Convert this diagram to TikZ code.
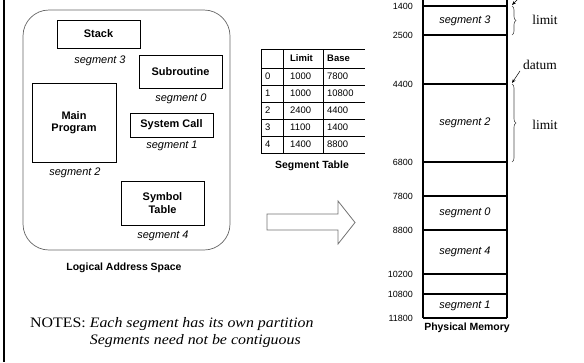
\documentclass[tikz,border=0pt]{standalone}
\usepackage{fontspec}
\setmainfont{Liberation Serif}
\setsansfont{Liberation Sans}
\newfontfamily\notesfont[FakeStretch=1.1]{Liberation Serif}
\usetikzlibrary{decorations.pathreplacing,arrows.meta}
\begin{document}
\begin{tikzpicture}[x=1bp,y=-1bp,
  seg/.style={draw=black,line width=0.9bp,minimum width=83bp,inner sep=0pt,
    font=\sffamily\bfseries\fontsize{11}{12.5}\selectfont,align=center},
  seglbl/.style={font=\sffamily\itshape\fontsize{11}{12}\selectfont,inner sep=0pt},
  caption/.style={font=\sffamily\bfseries\fontsize{10.5}{12}\selectfont,inner sep=0pt},
  addr/.style={font=\sffamily\fontsize{9}{10}\selectfont,inner sep=0pt,anchor=east},
  cell/.style={font=\sffamily\fontsize{9.5}{10}\selectfont,inner sep=0pt,anchor=west},
  hcell/.style={font=\sffamily\bfseries\fontsize{9.5}{10}\selectfont,inner sep=0pt,anchor=west},
  memline/.style={line width=1.1bp},
  bracestyle/.style={decorate,decoration={brace,amplitude=4bp},draw=black!70,line width=0.6bp},
  serifnote/.style={font=\rmfamily\fontsize{13.5}{15}\selectfont,inner sep=0pt},
  ptr/.style={-{Stealth[length=4bp,width=3bp]},line width=0.5bp}
]
\useasboundingbox (0,0) rectangle (584,362);
% left border
\draw[line width=2bp] (4,0) -- (4,362);

% logical address space
\draw[black!60,line width=0.7bp,rounded corners=26bp] (23,10) rectangle (230,250);
\node[seg,minimum height=28bp] (stack) at (98.5,34) {Stack};
\node[seglbl] (l3) at (100,61) {segment 3};
\node[seg,minimum height=33bp] (sub) at (180.5,71.5) {Subroutine};
\node[seglbl] (l0) at (181,99) {segment 0};
\node[seg,minimum width=84bp,minimum height=79bp] (main) at (74,122.5) {Main\\Program};
\node[seglbl] (l2) at (75,173) {segment 2};
\node[seg,minimum height=24bp] (sys) at (171.5,125) {System Call};
\node[seglbl] (l1) at (172,146) {segment 1};
\node[seg,minimum height=44bp] (sym) at (162.5,203) {Symbol\\Table};
\node[seglbl] (l4) at (163,236) {segment 4};
\node[caption] (las) at (124,268) {Logical Address Space};

% segment table
\foreach \yy in {49,68,85,102,119,136,153}{
  \draw[line width=0.7bp] (261,\yy) -- (365,\yy);
}
\draw[line width=1.2bp] (261.5,49) -- (261.5,153);
\draw[line width=0.7bp] (283,49) -- (283,153) (323,49) -- (323,153);
\node[hcell] (hl) at (290,58.5) {Limit};
\node[hcell] (hb) at (327,58.5) {Base};
\foreach \i/\lim/\base/\yy in {0/1000/7800/76.5,1/1000/10800/93.5,2/2400/4400/110.5,3/1100/1400/127.5,4/1400/8800/144.5}{
  \node[cell] (r\i) at (265,\yy) {\i};
  \node[cell] (rl\i) at (290,\yy) {\lim};
  \node[cell] (rb\i) at (327,\yy) {\base};
}
\node[caption] (st) at (312,166) {Segment Table};

% big arrow
\draw[black!55,line width=0.8bp,fill=white] (267,214) -- (338,214) -- (338,201) -- (355,222.5)
  -- (338,244) -- (338,230) -- (267,230) -- cycle;

% physical memory
\draw[memline] (423,0) -- (423,318) (507,0) -- (507,318);
\foreach \v/\yy in {1400/6,2500/35,4400/84,6800/162,7800/196,8800/230,10200/274,10800/294,11800/318}{
  \draw[memline] (423,\yy) -- (507,\yy);
  \coordinate (m\v) at (507,\yy);
  \node[addr] (a\v) at (413,\yy) {\v};
}
\node[seglbl] (p3) at (465,20.5) {segment 3};
\node[seglbl] (p2) at (465,123) {segment 2};
\node[seglbl] (p0) at (465,213) {segment 0};
\node[seglbl] (p4) at (465,252) {segment 4};
\node[seglbl] (p1) at (465,306) {segment 1};
\node[caption] (pm) at (467,328) {Physical Memory};

% braces and labels
\draw[bracestyle] ([xshift=5bp]m1400) -- ([xshift=5bp]m2500);
\node[serifnote] (lim1) at (545,20) {limit};
\draw[bracestyle] ([xshift=5bp]m4400) -- ([xshift=5bp]m6800);
\node[serifnote] (lim2) at (545,125) {limit};
\node[serifnote] (datum) at (540,65) {datum};
\coordinate (dstart) at (520,71);
\draw[ptr] (dstart) -- ([xshift=5bp,yshift=1bp]m4400);
\coordinate (topdatum) at (519,-2);
\draw[ptr] (topdatum) -- ([xshift=5bp,yshift=1bp]m1400);

% notes
\node[anchor=west,inner sep=0pt,font=\notesfont\fontsize{14.5}{17}\selectfont] (notes) at (30,333)
 {\begin{tabular}{@{}l@{}l@{}}NOTES:\kern4bp & \textit{Each segment has its own partition}\\
  & \textit{Segments need not be contiguous}\end{tabular}};
\end{tikzpicture}
\end{document}
